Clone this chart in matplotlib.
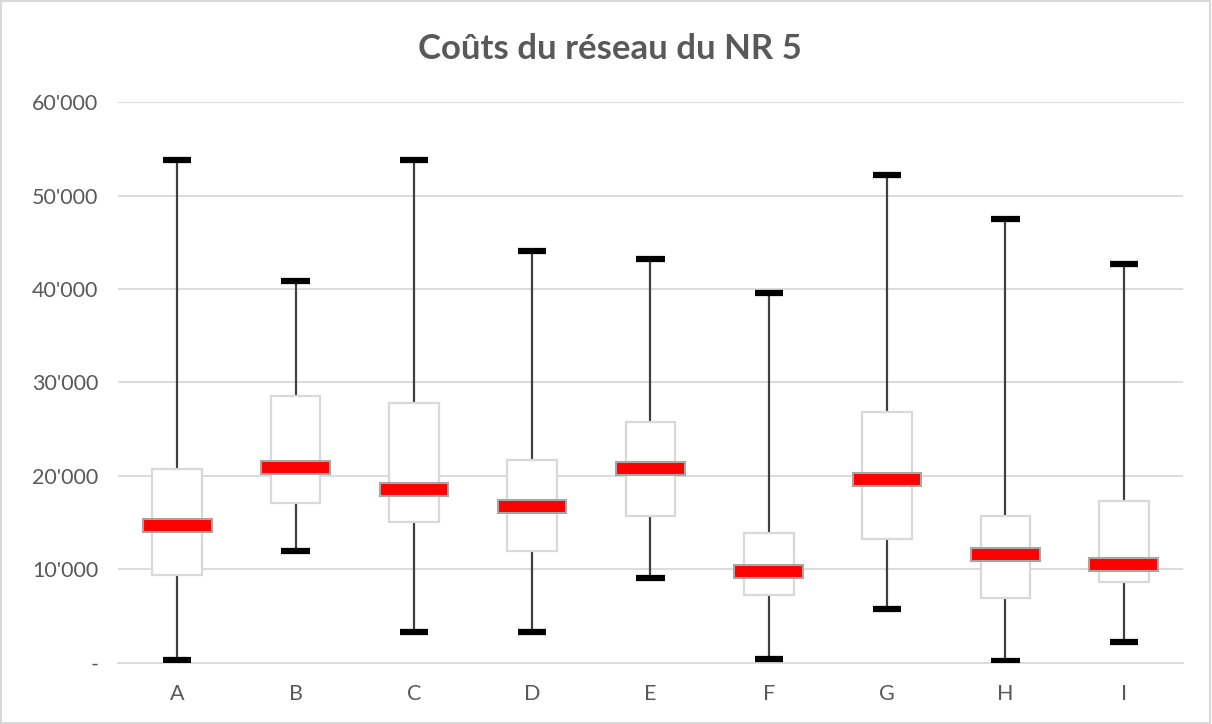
import matplotlib
matplotlib.use("Agg")
import matplotlib.pyplot as plt
from matplotlib.ticker import FuncFormatter, MultipleLocator
from matplotlib.patches import Rectangle

plt.rcParams['font.family'] = ['Lato', 'DejaVu Sans']

categories = ['A', 'B', 'C', 'D', 'E', 'F', 'G', 'H', 'I']
whisker_low = [300, 12000, 3350, 3350, 9100, 460, 5800, 250, 2200]
q1 = [9450, 17100, 15100, 12000, 15700, 7270, 13300, 6900, 8700]
median = [14700, 20900, 18600, 16700, 20800, 9770, 19600, 11600, 10500]
q3 = [20700, 28600, 27800, 21700, 25800, 13900, 26800, 15700, 17300]
whisker_high = [53800, 40900, 53800, 44100, 43200, 39600, 52200, 47500, 42700]

text_grey = '#595959'
grid_grey = '#d9d9d9'

fig = plt.figure(figsize=(12.12, 7.24), dpi=100)
ax = fig.add_axes([0.0974, 0.0843, 0.8786, 0.7748])

x = range(len(categories))

# moustaches
ax.vlines(x, whisker_low, q1, color='#404040', lw=1.6, zorder=2)
ax.vlines(x, q3, whisker_high, color='#404040', lw=1.6, zorder=2)
for xi, lo, hi in zip(x, whisker_low, whisker_high):
    ax.hlines([lo, hi], xi - 0.12, xi + 0.12, color='black', lw=4.5, zorder=3)

# boites
heights = [b - a for a, b in zip(q1, q3)]
ax.bar(x, heights, bottom=q1, width=0.42, color='white',
       edgecolor=grid_grey, lw=1.6, zorder=3)

# medianes
bar_h = 1400
ax.bar(x, [bar_h] * len(x), bottom=[m - bar_h / 2 for m in median], width=0.58,
       color='#ff0000', edgecolor='#a6a6a6', lw=1.5, zorder=4)

ax.set_xlim(-0.5, len(categories) - 0.5)
ax.set_ylim(0, 60000)
ax.set_xticks(list(x))
ax.set_xticklabels(categories)
ax.yaxis.set_major_locator(MultipleLocator(10000))
ax.yaxis.set_major_formatter(FuncFormatter(
    lambda v, p: '-' if v == 0 else "{:,.0f}".format(v).replace(',', "'")))

ax.grid(axis='y', color=grid_grey, lw=1.3, zorder=0)
ax.set_axisbelow(True)
for s in ['top', 'right', 'left']:
    ax.spines[s].set_visible(False)
ax.spines['bottom'].set_color(grid_grey)
ax.spines['bottom'].set_linewidth(1.3)
ax.tick_params(axis='both', length=0, labelsize=15.5, labelcolor=text_grey)
ax.tick_params(axis='y', pad=14)
ax.tick_params(axis='x', pad=15)

fig.text(0.503, 0.933, 'Coûts du réseau du NR 5', ha='center', va='center',
         fontsize=25, fontweight='bold', color=text_grey)

fig.patches.append(Rectangle((0.001, 0.001), 0.997, 0.997, transform=fig.transFigure,
                             fill=False, edgecolor=grid_grey, lw=1.5))

fig.savefig('out.png', dpi=100)
